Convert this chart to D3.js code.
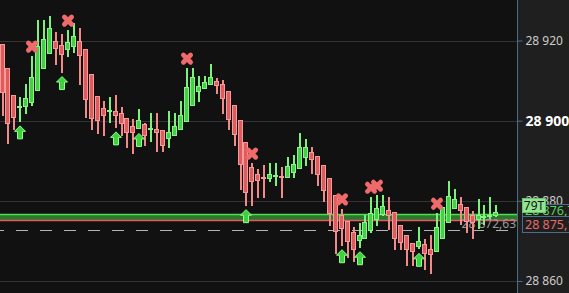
<!DOCTYPE html>
<html>
<head>
<meta charset="utf-8">
<script src="https://cdn.jsdelivr.net/npm/d3@7"></script>
<style>
  body { margin: 0; background: #111111; }
  svg { display: block; font-family: "Noto Sans", sans-serif; }
</style>
</head>
<body>
<svg id="chart" width="569" height="293"></svg>
<script>
// candles, one entry per bar
const opens  = [28919.1,28913.1,28906.3,28903.6,28903.4,28904.4,28907.5,28913.0,28916.7,28919.8,
                28918.8,28917.7,28918.5,28919.8,28918.0,28911.6,28906.1,28903.2,28902.5,28902.4,
                28901.9,28900.7,28898.7,28897.8,28899.2,28897.6,28897.9,28897.7,28895.5,28896.2,
                28897.6,28899.6,28903.7,28907.2,28908.0,28908.8,28909.9,28909.1,28907.4,28903.9,
                28900.2,28894.7,28888.4,28886.7,28885.9,28885.5,28886.3,28886.2,28885.8,28886.9,
                28887.9,28890.8,28892.1,28891.2,28888.9,28885.7,28881.4,28876.5,28874.9,28872.3,
                28870.0,28870.5,28872.5,28875.1,28876.5,28877.6,28877.1,28873.9,28871.6,28869.6,
                28868.4,28869.2,28867.9,28867.2,28870.4,28874.4,28877.9,28879.1,28878.4,28876.4,
                28875.1,28876.0,28875.9,28876.1];
const highs  = [28919.1,28913.1,28906.3,28905.8,28909.1,28916.1,28925.1,28925.1,28926.1,28922.1,
                28921.6,28922.6,28924.3,28923.1,28918.0,28911.6,28906.1,28904.9,28905.8,28906.3,
                28903.4,28900.7,28900.4,28902.9,28899.4,28901.9,28901.9,28897.7,28902.4,28901.9,
                28904.9,28913.1,28913.1,28911.1,28911.1,28914.1,28910.6,28910.1,28907.4,28903.9,
                28900.2,28894.7,28889.4,28887.9,28888.9,28889.4,28889.4,28888.4,28890.9,28891.4,
                28896.9,28895.4,28893.4,28891.2,28888.9,28885.7,28881.4,28878.0,28874.9,28873.4,
                28874.4,28876.5,28880.9,28881.4,28881.4,28880.9,28877.1,28873.9,28871.6,28869.6,
                28873.4,28870.4,28871.4,28876.9,28878.4,28884.9,28882.9,28880.9,28878.4,28877.4,
                28880.4,28878.9,28880.9,28878.9];
const lows   = [28901.2,28894.2,28897.7,28899.7,28901.7,28903.6,28907.5,28913.0,28916.7,28914.0,
                28912.0,28916.0,28917.0,28909.0,28900.7,28897.7,28896.7,28896.2,28899.3,28898.2,
                28896.2,28893.3,28891.8,28897.8,28893.8,28894.7,28892.3,28892.3,28893.3,28896.2,
                28897.6,28899.6,28903.7,28904.7,28908.0,28908.8,28906.7,28901.7,28897.7,28893.8,
                28882.7,28878.8,28878.8,28880.8,28880.8,28884.8,28883.8,28880.8,28885.8,28885.8,
                28887.9,28888.8,28886.8,28883.8,28879.8,28873.8,28866.8,28868.8,28865.8,28864.8,
                28868.3,28870.5,28871.9,28873.8,28876.3,28872.8,28867.8,28867.8,28863.8,28863.8,
                28867.9,28862.8,28861.8,28867.2,28870.4,28874.4,28877.9,28873.9,28871.9,28870.6,
                28872.9,28873.9,28875.4,28875.9];
const closes = [28907.0,28899.2,28900.7,28903.7,28905.6,28910.8,28918.6,28920.3,28923.0,28918.0,
                28916.5,28919.6,28921.0,28916.2,28905.2,28900.5,28900.0,28901.2,28902.6,28901.2,
                28899.1,28896.8,28896.8,28900.2,28896.2,28898.2,28897.0,28893.8,28897.1,28898.7,
                28901.4,28908.3,28910.9,28908.6,28909.6,28910.9,28908.6,28905.3,28900.2,28896.5,
                28889.0,28882.0,28884.8,28885.0,28885.4,28886.7,28886.4,28886.1,28888.7,28889.2,
                28893.4,28893.4,28890.3,28886.5,28882.5,28876.8,28872.1,28873.0,28869.8,28867.8,
                28871.4,28874.7,28876.9,28878.1,28878.6,28876.3,28870.5,28869.4,28867.7,28867.2,
                28869.9,28866.7,28866.4,28873.4,28878.4,28881.1,28880.4,28877.4,28874.6,28874.4,
                28876.4,28876.1,28876.5,28877.1];

// signal markers (bar indices)
const buySignals  = [3, 10, 19, 23, 41, 57, 60, 70];
const sellSignals = [5, 11, 31, 42, 57, 62, 63, 73];

const priceTicks = [28920, 28900, 28880, 28860];
const boldTick = 28900;
const bandTop = 28876.70;
const bandBottom = 28875.10;
const dashedLevel = 28872.63;
const volumeTag = "79T";

const width = 569, height = 293;
const axisX = 517;

const locale = d3.formatLocale({decimal: ",", thousands: " ", grouping: [3], currency: ["", ""]});
const fmtTick = locale.format(",.0f");
const fmtPrice = locale.format(",.2f");

const svg = d3.select("#chart");

const y = d3.scaleLinear().domain([28860, 28920]).range([281, 40.5]);
const x = d3.scaleLinear().domain([0, opens.length - 1]).range([2.5, 2.5 + (opens.length - 1) * 5.95]);

const bars = opens.map((o, i) => ({i: i, o: o, h: highs[i], l: lows[i], c: closes[i], up: closes[i] >= o}));

svg.append("rect").attr("width", width).attr("height", height).attr("fill", "#111111");
svg.append("rect").attr("x", axisX).attr("width", width - axisX).attr("height", height).attr("fill", "#1f1f1f");

// grid
svg.append("g")
    .selectAll("line")
    .data(priceTicks)
    .join("line")
    .attr("x1", 0).attr("x2", axisX)
    .attr("y1", d => Math.round(y(d)) + 0.5)
    .attr("y2", d => Math.round(y(d)) + 0.5)
    .attr("stroke", "#333333")
    .attr("stroke-width", 1);

// green / red band
const yTop = Math.round(y(bandTop)), yBot = Math.round(y(bandBottom));
svg.append("rect").attr("x", 0).attr("y", yTop).attr("width", axisX).attr("height", yBot - yTop)
    .attr("fill", "#2d762d");
svg.append("line").attr("x1", 0).attr("x2", axisX).attr("y1", yTop + 0.5).attr("y2", yTop + 0.5)
    .attr("stroke", "#4fdc4f").attr("stroke-width", 1.3);
svg.append("line").attr("x1", 0).attr("x2", axisX).attr("y1", yBot + 0.5).attr("y2", yBot + 0.5)
    .attr("stroke", "#e45c5c").attr("stroke-width", 1.3);

// dashed level
svg.append("line")
    .attr("x1", 0).attr("x2", axisX - 8)
    .attr("y1", Math.round(y(dashedLevel)) + 0.5).attr("y2", Math.round(y(dashedLevel)) + 0.5)
    .attr("stroke", "#b4b4b4").attr("stroke-width", 1.2)
    .attr("stroke-dasharray", "12,12").attr("stroke-dashoffset", 8);

svg.append("text")
    .attr("x", axisX - 1).attr("y", y(dashedLevel) - 2)
    .attr("text-anchor", "end")
    .attr("font-size", 12)
    .attr("fill", "#9a9a9a")
    .text(fmtPrice(dashedLevel));

// candles
const candles = svg.append("g").attr("shape-rendering", "crispEdges");
candles.selectAll("rect.wick")
    .data(bars)
    .join("rect")
    .attr("class", "wick")
    .attr("x", d => Math.round(x(d.i)) - 1)
    .attr("y", d => y(d.h))
    .attr("width", 2)
    .attr("height", d => Math.max(1, y(d.l) - y(d.h)))
    .attr("fill", d => d.up ? "#7ef07e" : "#f28a8a");

candles.selectAll("rect.body")
    .data(bars)
    .join("rect")
    .attr("class", "body")
    .attr("x", d => Math.round(x(d.i)) - 2.5)
    .attr("y", d => Math.round(y(Math.max(d.o, d.c))) + 0.5)
    .attr("width", 4)
    .attr("height", d => Math.max(1, Math.round(y(Math.min(d.o, d.c))) - Math.round(y(Math.max(d.o, d.c))) - 1))
    .attr("fill", d => d.up ? "#45cf45" : "#e05c5c")
    .attr("stroke", d => d.up ? "#86f586" : "#f59a9a")
    .attr("stroke-width", 1);

// buy arrows
const arrowPath = "M0,0 L5.5,5.5 L2.5,5.5 L2.5,13 L-2.5,13 L-2.5,5.5 L-5.5,5.5 Z";
svg.append("g").selectAll("path")
    .data(buySignals)
    .join("path")
    .attr("d", arrowPath)
    .attr("transform", i => "translate(" + Math.round(x(i)) + "," + (y(lows[i]) + 4) + ")")
    .attr("fill", "#3fcf3f")
    .attr("stroke", "#8cff8c")
    .attr("stroke-width", 1);

// sell crosses
svg.append("g").selectAll("path")
    .data(sellSignals)
    .join("path")
    .attr("d", "M-3.6,-3.6 L3.6,3.6 M3.6,-3.6 L-3.6,3.6")
    .attr("transform", i => "translate(" + Math.round(x(i)) + "," + (y(highs[i]) - 9.5) + ")")
    .attr("fill", "none")
    .attr("stroke", "#ef6a6a")
    .attr("stroke-width", 4.8)
    .attr("stroke-linecap", "round");

// right axis
svg.append("line").attr("x1", axisX + 0.5).attr("x2", axisX + 0.5).attr("y1", 0).attr("y2", height)
    .attr("stroke", "#4a6d8c");

const axis = svg.append("g")
    .attr("transform", "translate(" + (axisX + 0.5) + ",0)")
    .call(d3.axisRight(y).tickValues(priceTicks).tickSize(5).tickPadding(3).tickFormat(fmtTick));
axis.select(".domain").remove();
axis.selectAll(".tick line").attr("stroke", "#4a6d8c");
axis.selectAll(".tick text")
    .attr("font-family", "Noto Sans")
    .attr("font-size", d => d === boldTick ? 14 : 12)
    .attr("font-weight", d => d === boldTick ? "bold" : "normal")
    .attr("fill", d => d === boldTick ? "#ffffff" : "#cccccc");

// price labels on the axis
const labels = [
  {v: bandTop, color: "#55d455", y0: 204, y1: 216},
  {v: bandBottom, color: "#e86a6a", y0: 216, y1: 232}
];
const lab = svg.append("g").selectAll("g").data(labels).join("g");
lab.append("rect")
    .attr("x", 522.5).attr("y", d => d.y0 + 0.5)
    .attr("width", 60).attr("height", d => d.y1 - d.y0)
    .attr("fill", "#1f1f1f").attr("stroke", "#4a6d8c");
lab.append("text")
    .attr("x", 525).attr("y", d => (d.y0 + d.y1) / 2 + 4.5)
    .attr("font-size", 12.5)
    .attr("fill", d => d.color)
    .text(d => fmtPrice(d.v));

svg.append("rect").attr("x", 522.5).attr("y", 198.5).attr("width", 23).attr("height", 14)
    .attr("fill", "#92e692").attr("stroke", "#6cc46c");
svg.append("text").attr("x", 534).attr("y", 210).attr("text-anchor", "middle")
    .attr("font-size", 12).attr("fill", "#111111").text(volumeTag);
</script>
</body>
</html>
